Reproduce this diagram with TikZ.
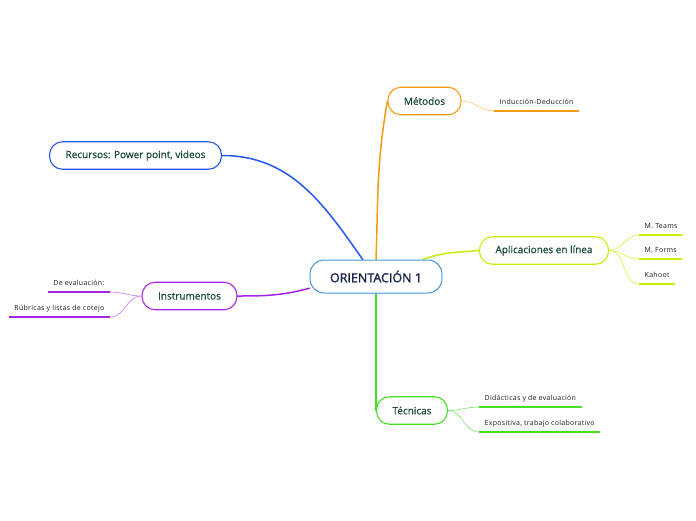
\documentclass[tikz,border=0pt]{standalone}
\usepackage{fontspec}
\setmainfont{Open Sans}
\newfontfamily\semifont{Open Sans}[FakeBold=0.7]
\newfontfamily\rootfont{Open Sans}[FakeBold=1.3]
\newfontfamily\leaffont{Open Sans}[LetterSpace=4]
\usepackage{tikz}
\usetikzlibrary{backgrounds}
\definecolor{rootblue}{HTML}{3D97DE}
\definecolor{rootink}{HTML}{15234B}
\definecolor{branchink}{HTML}{1B4B3C}
\definecolor{metorange}{HTML}{F59B13}
\definecolor{recblue}{HTML}{2656F0}
\definecolor{appyellow}{HTML}{C9EE0A}
\definecolor{insviolet}{HTML}{A424E8}
\definecolor{tecgreen}{HTML}{46DE25}

\begin{document}
\begin{tikzpicture}[
  x=1pt,
  y=-1pt,
  root/.style={draw=rootblue, fill=white, line width=1pt, rounded corners=14pt, minimum height=33pt, inner xsep=20pt, text=rootink, font=\rootfont\fontsize{12.5}{14}\selectfont},
  branch/.style={fill=white, line width=1.1pt, rounded corners=13pt, minimum height=27.5pt, inner xsep=16pt, text=branchink, font=\semifont\fontsize{10}{12}\selectfont},
  leaf/.style={inner xsep=5.5pt, inner ysep=4.5pt, text depth=1.5pt, text=black!90, font=\leaffont\fontsize{7}{8}\selectfont},
  trunk/.style={line width=1.5pt, line cap=round},
  twig/.style={line width=0.6pt},
  uline/.style={line width=1.7pt}
]
\useasboundingbox (0,0) rectangle (696,520);

\node[root] (root) at (376,276.5) {ORIENTACIÓN 1};
\node[branch, draw=metorange] (meth) at (424.5,101) {Métodos};
\node[branch, draw=recblue] (rec) at (135.5,155.5) {Recursos: Power point, videos};
\node[branch, draw=appyellow] (apps) at (544,250.5) {Aplicaciones en línea};
\node[branch, draw=insviolet] (inst) at (189.5,296) {Instrumentos};
\node[branch, draw=tecgreen] (tec) at (412,410.5) {Técnicas};

\node[leaf, anchor=south west] (ind) at (494,111) {Inducción-Deducción};
\node[leaf, anchor=south west] (teams) at (639,235) {M. Teams};
\node[leaf, anchor=south west] (forms) at (639,259) {M, Forms};
\node[leaf, anchor=south west] (kahoot) at (639,284) {Kahoot};
\node[leaf, anchor=south east] (deev) at (110,292) {De evaluación:};
\node[leaf, anchor=south east] (rub) at (110,317) {Rúbricas y listas de cotejo};
\node[leaf, anchor=south west] (did) at (479,407) {Didácticas y de evaluación};
\node[leaf, anchor=south west] (expo) at (479,432) {Expositiva, trabajo colaborativo};

\begin{scope}[on background layer]
\draw[trunk, recblue] (rec.east) to[out=0,in=125] (root.128);
\draw[trunk, metorange] (root.north) to[out=88,in=260] (meth.west);
\draw[trunk, appyellow] (root.20) to[out=20,in=185] (apps.west);
\draw[trunk, insviolet] (inst.east) to[out=0,in=195] (root.190);
\draw[trunk, tecgreen] (root.south) -- (root.south |- tec.west);

\draw[twig, metorange!60] (meth.east) to[out=0,in=180] (ind.south west);
\draw[twig, appyellow!80] (apps.east) to[out=0,in=180] (teams.south west);
\draw[twig, appyellow!80] (apps.east) to[out=0,in=180] (forms.south west);
\draw[twig, appyellow!80] (apps.east) to[out=0,in=180] (kahoot.south west);
\draw[twig, insviolet!60] (inst.west) to[out=180,in=0] (deev.south east);
\draw[twig, insviolet!60] (inst.west) to[out=180,in=0] (rub.south east);
\draw[twig, tecgreen!70] (tec.east) to[out=0,in=180] (did.south west);
\draw[twig, tecgreen!70] (tec.east) to[out=0,in=180] (expo.south west);
\end{scope}

\foreach \lf/\col in {ind/metorange, teams/appyellow, forms/appyellow, kahoot/appyellow, deev/insviolet, rub/insviolet, did/tecgreen, expo/tecgreen}
  \draw[uline, \col] (\lf.south west) -- (\lf.south east);
\end{tikzpicture}
\end{document}
